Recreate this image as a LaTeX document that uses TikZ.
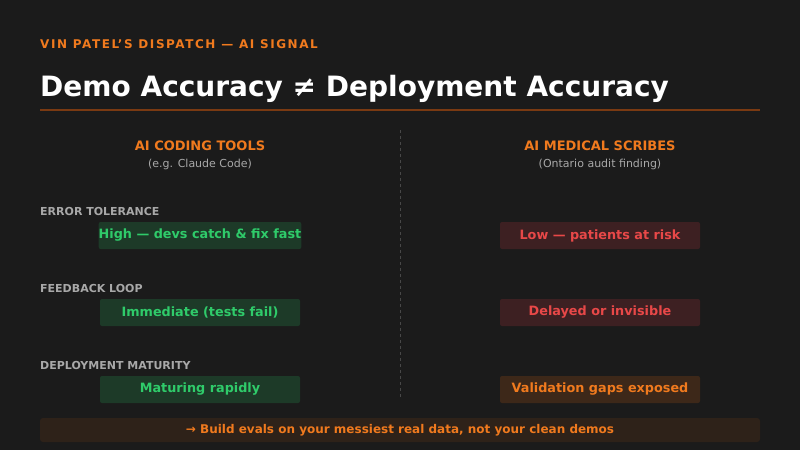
\documentclass[tikz,border=0pt]{standalone}
\usepackage{fontspec}
\setmainfont{DejaVu Sans}
\definecolor{bg}{HTML}{1B1B1B}
\definecolor{org}{HTML}{F07A1E}
\definecolor{rule}{HTML}{7A3A12}
\definecolor{gry}{HTML}{A8A8A8}
\definecolor{gfill}{HTML}{1D3A28}
\definecolor{gtxt}{HTML}{2FCB6A}
\definecolor{rfill}{HTML}{3D2022}
\definecolor{rtxt}{HTML}{E84848}
\definecolor{ofill}{HTML}{3D2819}
\definecolor{bfill}{HTML}{2E2219}
\begin{document}
\begin{tikzpicture}[x=1pt,y=-1pt,
  lbl/.style={anchor=base west,text=gry,font=\fontsize{11}{13}\selectfont\bfseries,inner sep=0},
  gbox/.style={fill=gfill,minimum width=200pt,minimum height=27pt,inner sep=0,rounded corners=2pt,text=gtxt,font=\fontsize{12.8}{15}\selectfont\bfseries},
  rbox/.style={gbox,fill=rfill,text=rtxt},
  obox/.style={gbox,fill=ofill,text=org},
  head/.style={text=org,font=\fontsize{13}{15}\selectfont\bfseries,inner sep=0,anchor=base},
  sub/.style={text=gry,font=\fontsize{11}{13}\selectfont,inner sep=0,anchor=base}]
\fill[bg] (0,0) rectangle (800,450);
\node[anchor=base west,inner sep=0,text=org,font=\fontsize{12}{14}\selectfont\bfseries\addfontfeature{LetterSpace=13}] (kick) at (40,48) {VIN PATEL\symbol{39}S DISPATCH — AI SIGNAL};
\node[anchor=base west,inner sep=0,text=white,font=\fontsize{28}{32}\selectfont\bfseries] (title) at (40,96) {Demo Accuracy ≠ Deployment Accuracy};
\coordinate (r1) at (40,110); \coordinate (r2) at (760,110);
\draw[rule,line width=1.2pt] (r1) -- (r2);
\coordinate (d1) at (400,130); \coordinate (d2) at (400,397);
\draw[gray!45!bg,dashed,line width=1pt] (d1) -- (d2);
\node[head] (h1) at (200,150) {AI CODING TOOLS};
\node[sub] (s1) at (200,167) {(e.g. Claude Code)};
\node[head] (h2) at (600,150) {AI MEDICAL SCRIBES};
\node[sub] (s2) at (600,167) {(Ontario audit finding)};
\node[lbl] (l1) at (40,215) {ERROR TOLERANCE};
\node[lbl] (l2) at (40,292) {FEEDBACK LOOP};
\node[lbl] (l3) at (40,369) {DEPLOYMENT MATURITY};
\node[gbox] (a1) at (200,235.5) {High — devs catch \& fix fast};
\node[rbox] (b1) at (600,235.5) {Low — patients at risk};
\node[gbox] (a2) at (200,312.5) {Immediate (tests fail)};
\node[rbox] (b2) at (600,312.5) {Delayed or invisible};
\node[gbox] (a3) at (200,389.5) {Maturing rapidly};
\node[obox] (b3) at (600,389.5) {Validation gaps exposed};
\node[fill=bfill,minimum width=720pt,minimum height=24pt,inner sep=0,rounded corners=3pt,text=org,font=\fontsize{12}{14}\selectfont\bfseries] (bar) at (400,430) {→ Build evals on your messiest real data, not your clean demos};
\end{tikzpicture}
\end{document}
